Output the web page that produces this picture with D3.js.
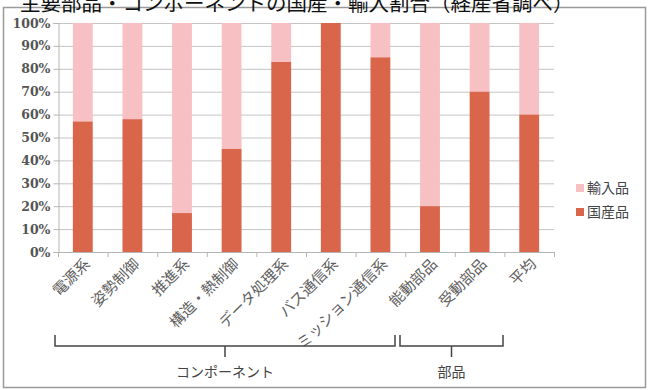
<!DOCTYPE html>
<html><head><meta charset="utf-8">
<script src="https://cdn.jsdelivr.net/npm/d3@7"></script>
<style>body{margin:0;background:#fff}svg{display:block}</style>
</head><body>
<svg id="c" width="654" height="390"></svg>
<script>
const title = "主要部品・コンポーネントの国産・輸入割合（経産省調べ）";
const categories = ["電源系","姿勢制御","推進系","構造・熱制御","データ処理系","バス通信系","ミッション通信系","能動部品","受動部品","平均"];
const domestic = [57, 58, 17, 45, 83, 100, 85, 20, 70, 60];
const imported = domestic.map(d => 100 - d);
const yTicks = [0,10,20,30,40,50,60,70,80,90,100];
const groups = [{name:"コンポーネント", from:0, to:6}, {name:"部品", from:7, to:8}];
const seriesNames = ["輸入品","国産品"];
const colors = {"国産品":"#d9654b","輸入品":"#f7c0c3"};

const svg = d3.select("#c");
const jp = "'Noto Sans CJK JP', sans-serif";

// outer frame
svg.append("rect").attr("x",3.5).attr("y",7.5).attr("width",642).attr("height",380)
  .attr("fill","#fff").attr("stroke","#9a9a9a").attr("stroke-width",1.5);

svg.append("text").attr("x",20).attr("y",11).attr("font-family",jp).attr("font-size",20.5)
  .attr("fill","#111").text(title);

const L=58, R=554, T=23, B=252;
const x = d3.scaleBand().domain(categories).range([L,R]).paddingInner(0.6).paddingOuter(0.3);
const y = d3.scaleLinear().domain([0,100]).range([B,T]);

// gridlines
svg.append("g").selectAll("line").data(yTicks).join("line")
  .attr("x1",L).attr("x2",R).attr("y1",d=>y(d)+0.5).attr("y2",d=>y(d)+0.5)
  .attr("stroke","#c4c4c4").attr("stroke-width",1);

// y axis
const ya = svg.append("g").attr("transform",`translate(${L+0.5},0)`)
  .call(d3.axisLeft(y).tickValues(yTicks).tickFormat(d=>d+"%").tickSize(5).tickPadding(3));
ya.select(".domain").attr("stroke","#b5b5b5");
ya.selectAll(".tick line").attr("stroke","#b5b5b5");
ya.selectAll("text").attr("font-family","'DejaVu Serif', serif").attr("font-size",12.5)
  .attr("font-weight","bold").attr("fill","#555");

// bars
const stack = categories.map((c,i)=>({c, dom:domestic[i], imp:imported[i]}));
svg.append("g").selectAll("rect").data(stack).join("rect")
  .attr("x",d=>x(d.c)).attr("width",x.bandwidth())
  .attr("y",d=>y(d.dom+d.imp)).attr("height",d=>y(d.dom)-y(d.dom+d.imp))
  .attr("fill",colors["輸入品"]);
svg.append("g").selectAll("rect").data(stack).join("rect")
  .attr("x",d=>x(d.c)).attr("width",x.bandwidth())
  .attr("y",d=>y(d.dom)).attr("height",d=>B-y(d.dom))
  .attr("fill",colors["国産品"]);

// x axis line and band ticks
const xa = svg.append("g");
xa.append("line").attr("x1",L).attr("x2",R).attr("y1",B+0.5).attr("y2",B+0.5).attr("stroke","#b5b5b5");
xa.selectAll("line.t").data(d3.range(categories.length+1)).join("line").attr("class","t")
  .attr("x1",i=>L+i*(R-L)/categories.length+0.5).attr("x2",i=>L+i*(R-L)/categories.length+0.5)
  .attr("y1",B).attr("y2",B+5).attr("stroke","#b5b5b5");

// rotated labels
xa.selectAll("text").data(categories).join("text")
  .attr("transform",d=>`translate(${x(d)+x.bandwidth()/2+8},${B+13}) rotate(-45)`)
  .attr("text-anchor","end").attr("font-family",jp).attr("font-size",15)
  .attr("fill","#606060").text(d=>d);

// group brackets
const gb = svg.append("g").attr("stroke","#444").attr("stroke-width",1.5).attr("fill","none");
const gBounds = [{x0:55,x1:395},{x0:400,x1:503}];
groups.forEach((g,k)=>{
  const x0 = gBounds[k].x0, x1 = gBounds[k].x1, xm = (x0+x1)/2;
  gb.append("path").attr("d",`M${x0},335 V346 H${x1} V335 M${xm},346 V357`);
  svg.append("text").attr("x",xm).attr("y",377).attr("text-anchor","middle")
    .attr("font-family",jp).attr("font-size",14).attr("fill","#444").text(g.name);
});

// legend
const lg = svg.append("g");
seriesNames.forEach((s,i)=>{
  lg.append("rect").attr("x",576).attr("y",184+i*24).attr("width",8).attr("height",8).attr("fill",colors[s]);
  lg.append("text").attr("x",587).attr("y",193+i*24).attr("font-family",jp).attr("font-size",14)
    .attr("fill","#444").text(s);
});
</script>
</body></html>
